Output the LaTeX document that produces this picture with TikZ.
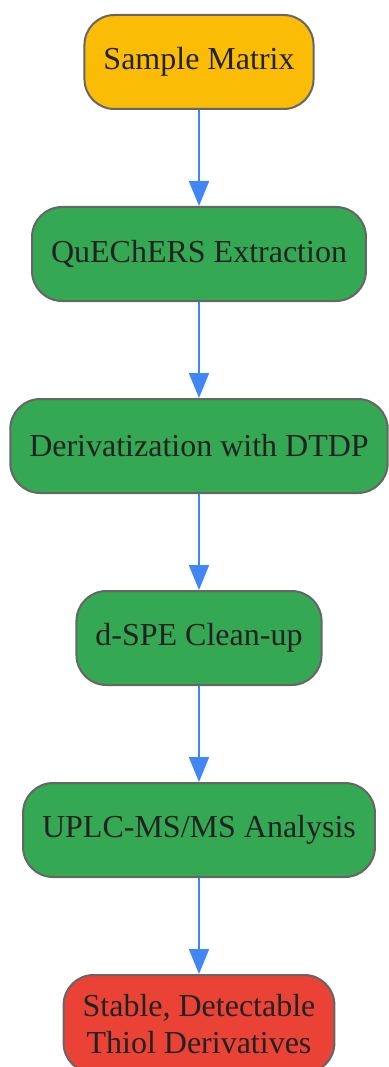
\documentclass[tikz,border=0pt]{standalone}
\usepackage{fontspec}
\setmainfont{Liberation Serif}
\usetikzlibrary{positioning,arrows.meta}
\definecolor{startcol}{HTML}{FBBC05}
\definecolor{stepcol}{HTML}{34A853}
\definecolor{endcol}{HTML}{EA4335}
\definecolor{linkcol}{HTML}{4285F4}
\definecolor{edgecol}{HTML}{666666}
\definecolor{textcol}{HTML}{222222}
\tikzset{
	stage/.style={draw=edgecol, line width=2pt, rounded corners=30pt, text=textcol,
		minimum height=94pt, inner xsep=19pt, align=center,
		font=\fontsize{32}{37}\selectfont},
	flow/.style={draw=linkcol, line width=2pt, -{Triangle[length=25pt,width=20pt]}}
}
\begin{document}
\begin{tikzpicture}[x=1pt,y=1pt,node distance=96pt]
		%frame
			\useasboundingbox (0,0) rectangle (388,-1067);
			
		%stages
			\node[stage, fill=startcol] (matrix) at (199,-62) {Sample Matrix};
			\node[stage, fill=stepcol, below=of matrix] (quechers) {QuEChERS Extraction};
			\node[stage, fill=stepcol, below=of quechers] (deriv) {Derivatization with DTDP};
			\node[stage, fill=stepcol, below=of deriv] (dspe) {d-SPE Clean-up};
			\node[stage, fill=stepcol, below=of dspe] (uplc) {UPLC-MS/MS Analysis};
			\node[stage, fill=endcol, minimum height=98pt, below=of uplc] (result) {Stable, Detectable\\Thiol Derivatives};
			
		%links
			\draw[flow] (matrix) -- (quechers);
			\draw[flow] (quechers) -- (deriv);
			\draw[flow] (deriv) -- (dspe);
			\draw[flow] (dspe) -- (uplc);
			\draw[flow] (uplc) -- (result);
		\end{tikzpicture}
\end{document}
